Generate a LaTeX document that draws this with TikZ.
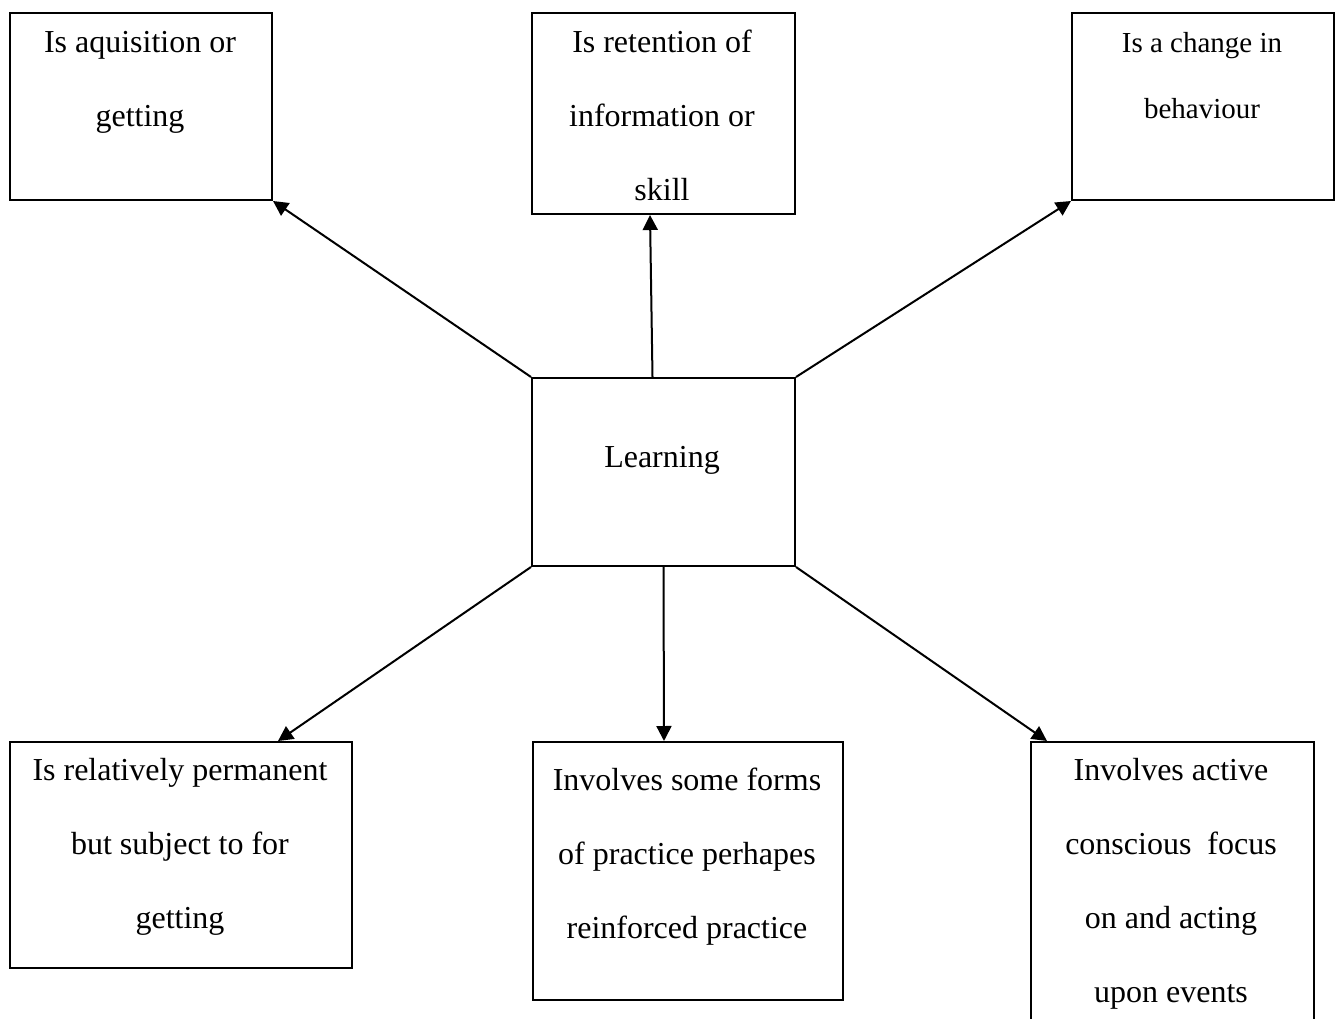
\documentclass[tikz,border=0pt]{standalone}
\usepackage{fontspec}
\setmainfont{Liberation Serif}
\usetikzlibrary{arrows.meta,calc}
\newcommand{\fstrut}{\rule{0pt}{26pt}}
\begin{document}
\begin{tikzpicture}[x=1pt,y=-1pt,
  box/.style={draw=black,line width=2pt,inner sep=0pt,anchor=north west},
  txt/.style={anchor=north,inner sep=0pt,align=center,font=\fontsize{32}{74}\selectfont},
  smalltxt/.style={anchor=north,inner sep=0pt,align=center,font=\fontsize{29}{66}\selectfont},
  conn/.style={line width=2pt,-{Triangle[length=15pt,width=15pt]}}]
\clip (0,0) rectangle (1336,1019);
\fill[white] (0,0) rectangle (1336,1019);
% boxes
\node[box,minimum width=262pt,minimum height=187pt] (tl) at (9,12) {};
\node[box,minimum width=263pt,minimum height=201pt] (tc) at (531,12) {};
\node[box,minimum width=262pt,minimum height=187pt] (tr) at (1071,12) {};
\node[box,minimum width=263pt,minimum height=188pt] (learn) at (531,377) {};
\node[box,minimum width=342pt,minimum height=226pt] (bl) at (9,741) {};
\node[box,minimum width=310pt,minimum height=258pt] (bc) at (532,741) {};
\node[box,minimum width=283pt,minimum height=320pt] (br) at (1030,741) {};
% texts
\node[txt] (tlt) at (140,26) {\fstrut Is aquisition or\\getting};
\node[txt] (tct) at (662,26) {\fstrut Is retention of\\information or\\skill};
\node[smalltxt] (trt) at (1202,26) {\fstrut Is a change in\\behaviour};
\node[txt] (learnt) at (662,441) {\fstrut Learning};
\node[txt] (blt) at (180,754) {\fstrut Is relatively permanent\\but subject to for\\getting};
\node[txt] (bct) at (687,764) {\fstrut Involves some forms\\of practice perhapes\\reinforced practice};
\node[txt] (brt) at (1171,754) {\fstrut Involves active\\conscious\ \ focus\\on and acting\\upon events};
% connectors
\draw[conn] (learn.north west) -- (tl.south east);
\draw[conn] ([xshift=-11pt]learn.north) -- ([xshift=-13.5pt]tc.south);
\draw[conn] (learn.north east) -- (tr.south west);
\draw[conn] (learn.south west) -- ([xshift=-75pt]bl.north east);
\draw[conn] (learn.south) -- ([xshift=-24pt]bc.north);
\draw[conn] (learn.south east) -- ([xshift=17pt]br.north west);
\end{tikzpicture}
\end{document}
